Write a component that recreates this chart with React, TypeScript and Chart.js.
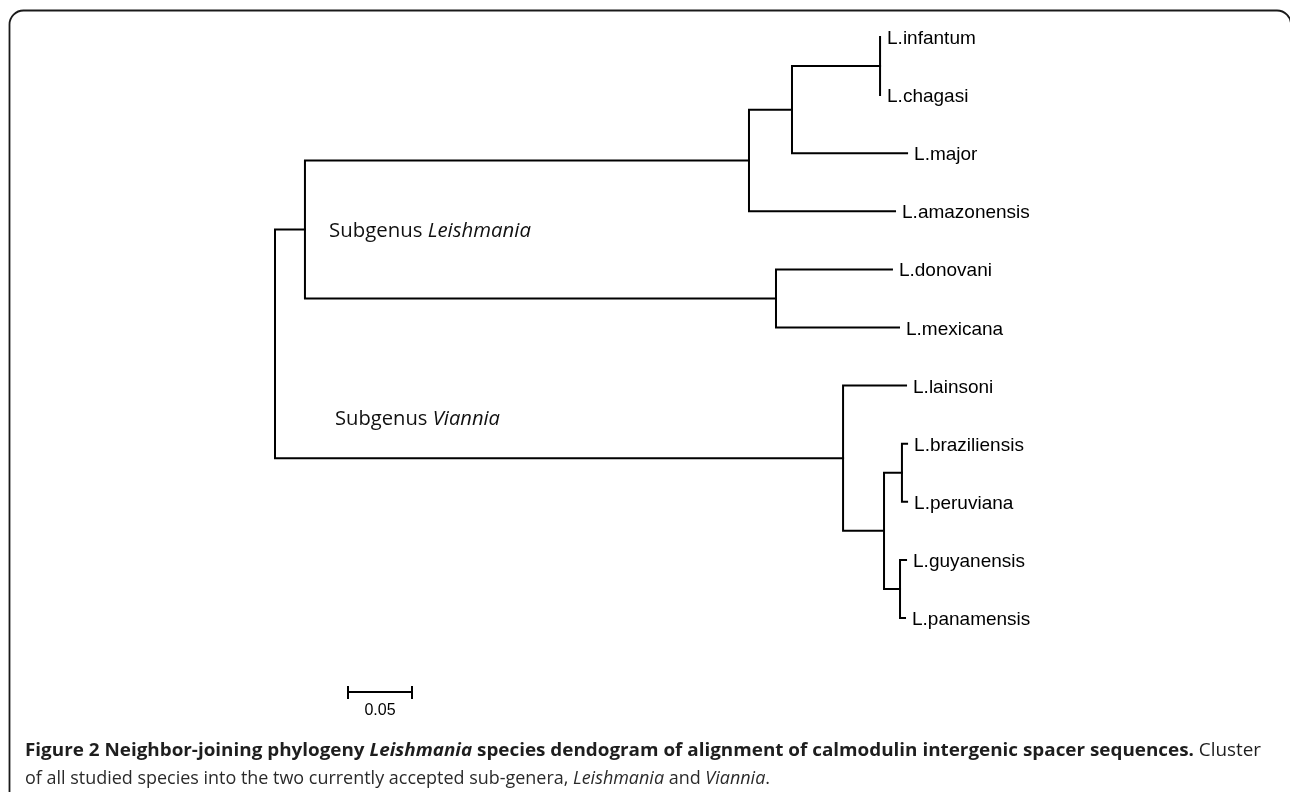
import React, { useEffect, useRef } from "react";
import { Chart, registerables } from "chart.js";

Chart.register(...registerables);

// ---- Data ----
const leafLabels = [
  "L.infantum",
  "L.chagasi",
  "L.major",
  "L.amazonensis",
  "L.donovani",
  "L.mexicana",
  "L.lainsoni",
  "L.braziliensis",
  "L.peruviana",
  "L.guyanensis",
  "L.panamensis",
];
// cumulative distance from root (substitutions/site)
const leafDepths = [0.4727, 0.4727, 0.4938, 0.4844, 0.482, 0.4875, 0.493, 0.4938, 0.4938, 0.493, 0.4922];

const nodeIds = ["root", "sgLeish", "nA", "nB", "nIC", "nC", "sgVian", "nD", "nE", "nF"];
const nodeDepths = [0, 0.0234, 0.3703, 0.4039, 0.4727, 0.3914, 0.4438, 0.4758, 0.4898, 0.4883];
const nodeChildren = [
  ["sgLeish", "sgVian"],
  ["nA", "nC"],
  ["nB", "L.amazonensis"],
  ["nIC", "L.major"],
  ["L.infantum", "L.chagasi"],
  ["L.donovani", "L.mexicana"],
  ["L.lainsoni", "nD"],
  ["nE", "nF"],
  ["L.braziliensis", "L.peruviana"],
  ["L.guyanensis", "L.panamensis"],
];

const subgenusPrefix = ["Subgenus ", "Subgenus "];
const subgenusNames = ["Leishmania", "Viannia"];
const subgenusX = [0.0422, 0.0469];
const subgenusY = [3.32, 6.56];

const scaleBarStart = 0.057;
const scaleBarLength = 0.05;
const scaleBarLabel = "0.05";

const captionLine1 = [
  { t: "Figure 2 Neighbor-joining phylogeny ", s: "bold" },
  { t: "Leishmania", s: "italic bold" },
  { t: " species dendogram of alignment of calmodulin intergenic spacer sequences.", s: "bold" },
  { t: " Cluster", s: "" },
];
const captionLine2 = [
  { t: "of all studied species into the two currently accepted sub-genera, ", s: "" },
  { t: "Leishmania", s: "italic" },
  { t: " and ", s: "" },
  { t: "Viannia", s: "italic" },
  { t: ".", s: "" },
];

// ---- Tree geometry from data ----
function buildTree() {
  const yOf: Record<string, number> = {};
  const xOf: Record<string, number> = {};
  leafLabels.forEach((l, i) => {
    yOf[l] = i;
    xOf[l] = leafDepths[i];
  });
  nodeIds.forEach((n, i) => (xOf[n] = nodeDepths[i]));
  const resolve = (id: string): number => {
    if (yOf[id] !== undefined) return yOf[id];
    const idx = nodeIds.indexOf(id);
    const ys = nodeChildren[idx].map(resolve);
    yOf[id] = (ys[0] + ys[1]) / 2;
    return yOf[id];
  };
  resolve("root");
  const paths = nodeIds.map((n, i) => {
    const [a, b] = nodeChildren[i];
    return [
      { x: xOf[a], y: yOf[a] },
      { x: xOf[n], y: yOf[a] },
      { x: xOf[n], y: yOf[b] },
      { x: xOf[b], y: yOf[b] },
    ];
  });
  return { paths, yOf, xOf };
}

function drawRuns(
  ctx: CanvasRenderingContext2D,
  runs: { t: string; s: string }[],
  family: string,
  size: number,
  x: number,
  y: number,
  targetWidth: number | null,
  color: string
) {
  ctx.save();
  let total = 0;
  const widths = runs.map((r) => {
    ctx.font = `${r.s} ${size}px ${family}`.trim();
    const w = ctx.measureText(r.t).width;
    total += w;
    return w;
  });
  const sc = targetWidth ? targetWidth / total : 1;
  ctx.translate(x, y);
  ctx.scale(sc, 1);
  ctx.fillStyle = color;
  ctx.textBaseline = "alphabetic";
  ctx.textAlign = "left";
  let cx = 0;
  runs.forEach((r, i) => {
    ctx.font = `${r.s} ${size}px ${family}`.trim();
    ctx.fillText(r.t, cx, 0);
    cx += widths[i];
  });
  ctx.restore();
}

export default function App() {
  const ref = useRef<HTMLCanvasElement | null>(null);

  useEffect(() => {
    const canvas = ref.current;
    if (!canvas) return;
    const { paths } = buildTree();

    const overlay = {
      id: "overlay",
      afterDatasetsDraw(chart: any) {
        const ctx: CanvasRenderingContext2D = chart.ctx;
        const xs = chart.scales.x;
        const ys = chart.scales.y;

        // frame
        ctx.save();
        ctx.strokeStyle = "#1a1a1a";
        ctx.lineWidth = 1.8;
        const r = 14;
        ctx.beginPath();
        ctx.moveTo(9.5, 800);
        ctx.lineTo(9.5, 10.5 + r);
        ctx.arcTo(9.5, 10.5, 9.5 + r, 10.5, r);
        ctx.lineTo(1291 - r, 10.5);
        ctx.arcTo(1291, 10.5, 1291, 10.5 + r, r);
        ctx.lineTo(1291, 800);
        ctx.stroke();
        ctx.restore();

        // tip labels
        ctx.save();
        ctx.fillStyle = "#000";
        ctx.font = "19px 'Liberation Sans', Arial, sans-serif";
        ctx.textBaseline = "alphabetic";
        leafLabels.forEach((l, i) => {
          const px = xs.getPixelForValue(leafDepths[i]) + 7;
          const py = ys.getPixelForValue(i) + 7;
          ctx.fillText(l, px, py);
        });
        ctx.restore();

        // subgenus labels
        const widthsSg = [202, 165];
        subgenusNames.forEach((n, i) => {
          drawRuns(
            ctx,
            [
              { t: subgenusPrefix[i], s: "" },
              { t: n, s: "italic" },
            ],
            "'Open Sans', sans-serif",
            20,
            xs.getPixelForValue(subgenusX[i]),
            ys.getPixelForValue(subgenusY[i]) + 7,
            widthsSg[i],
            "#111"
          );
        });

        // scale bar
        const sx0 = Math.round(xs.getPixelForValue(scaleBarStart));
        const sx1 = Math.round(xs.getPixelForValue(scaleBarStart + scaleBarLength));
        const sy = 692;
        ctx.save();
        ctx.strokeStyle = "#000";
        ctx.lineWidth = 2;
        ctx.beginPath();
        ctx.moveTo(sx0, sy);
        ctx.lineTo(sx1, sy);
        ctx.moveTo(sx0, sy - 6);
        ctx.lineTo(sx0, sy + 7);
        ctx.moveTo(sx1, sy - 6);
        ctx.lineTo(sx1, sy + 7);
        ctx.stroke();
        ctx.fillStyle = "#000";
        ctx.font = "16px 'Liberation Sans Narrow', 'Liberation Sans', Arial, sans-serif";
        ctx.textAlign = "center";
        ctx.textBaseline = "alphabetic";
        ctx.fillText(scaleBarLabel, (sx0 + sx1) / 2, 715);
        ctx.restore();

        // caption
        drawRuns(ctx, captionLine1, "'Open Sans', sans-serif", 18.5, 25, 756, 1236, "#1e1e1e");
        drawRuns(ctx, captionLine2, "'Open Sans', sans-serif", 18.5, 25, 784, 745, "#2a2a2a");
      },
    };

    const chart = new Chart(canvas, {
      type: "scatter",
      data: {
        datasets: paths.map((p) => ({
          data: p,
          showLine: true,
          borderColor: "#000",
          borderWidth: 2,
          pointRadius: 0,
          pointHoverRadius: 0,
          fill: false,
          tension: 0,
          borderJoinStyle: "miter" as const,
          borderCapStyle: "square" as const,
        })),
      },
      options: {
        animation: false,
        responsive: false,
        devicePixelRatio: 1,
        layout: { padding: 0 },
        plugins: { legend: { display: false }, tooltip: { enabled: false } },
        events: [],
        scales: {
          x: { type: "linear", display: false, min: -275 / 1280, max: (1290 - 275) / 1280 },
          y: { type: "linear", display: false, reverse: true, min: -37 / 58.1, max: (792 - 37) / 58.1 },
        },
      },
      plugins: [overlay],
    });
    return () => chart.destroy();
  }, []);

  return (
    <div style={{ position: "fixed", left: 0, top: 0, width: 1290, height: 792, background: "#fff" }}>
      <canvas ref={ref} width={1290} height={792} style={{ display: "block" }} />
    </div>
  );
}
